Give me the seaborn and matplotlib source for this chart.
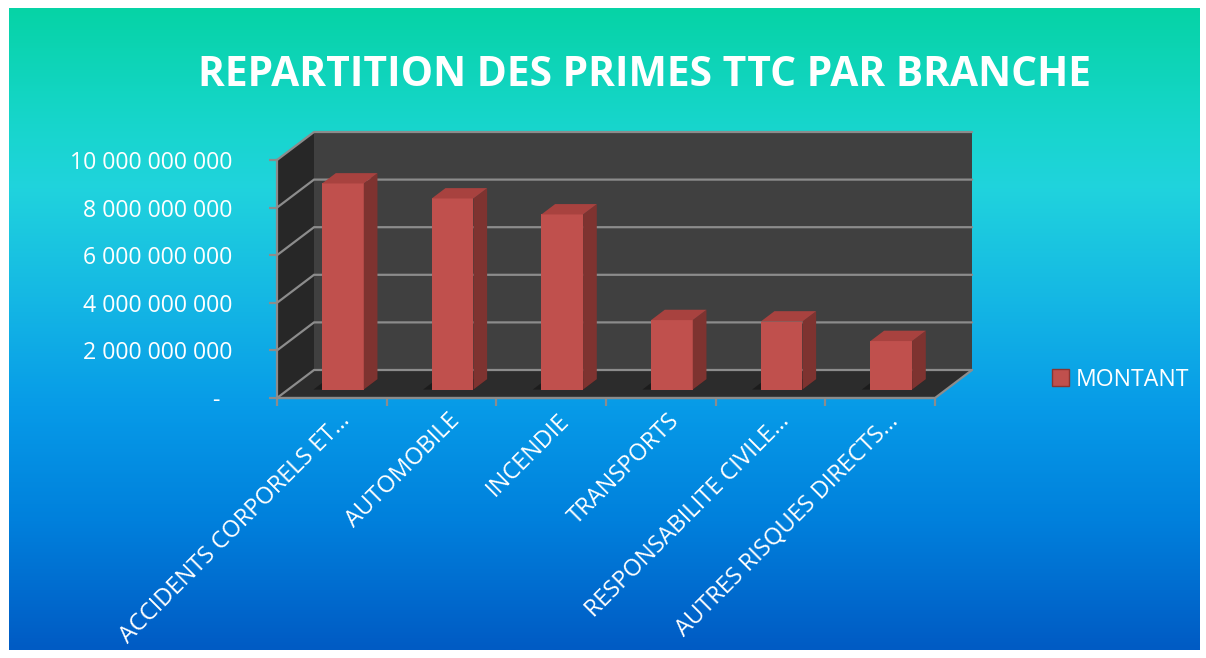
import numpy as np
import pandas as pd
import seaborn as sns
import matplotlib
matplotlib.use("Agg")
import matplotlib.pyplot as plt
from matplotlib.patches import Polygon, Patch
from matplotlib.colors import LinearSegmentedColormap
from matplotlib.transforms import ScaledTranslation

# donnees
branches = ["ACCIDENTS CORPORELS ET…", "AUTOMOBILE", "INCENDIE", "TRANSPORTS",
            "RESPONSABILITE CIVILE…", "AUTRES RISQUES DIRECTS…"]
montants = [8.66e9, 8.03e9, 7.36e9, 2.92e9, 2.86e9, 2.04e9]
yticks = [0, 2e9, 4e9, 6e9, 8e9, 1e10]
titre = "REPARTITION DES PRIMES TTC PAR BRANCHE"
serie = "MONTANT"

sns.set_style("white")
plt.rcParams["font.family"] = ["Open Sans", "DejaVu Sans"]

W, H = 1206, 658
fig = plt.figure(figsize=(W / 100, H / 100), dpi=100)
fig.patch.set_facecolor("white")

# fond en degrade
bg = fig.add_axes([9 / W, 8 / H, (1200 - 9) / W, (650 - 8) / H])
cmap = LinearSegmentedColormap.from_list("fond", [
    (0.0, "#06d3a6"), (0.18, "#17d6cc"), (0.28, "#20d3dd"), (0.45, "#15b8e4"),
    (0.62, "#079be8"), (0.80, "#0080dc"), (1.0, "#005bc4")])
bg.imshow(np.linspace(0, 1, 256).reshape(-1, 1), aspect="auto", cmap=cmap,
          extent=[0, 1, 0, 1])
bg.set_axis_off()

# axe principal (face avant du graphique 3D)
ax = fig.add_axes([277 / W, (H - 398) / H, (935 - 277) / W, 238 / H])
ax.patch.set_visible(False)

df = pd.DataFrame({"branche": branches, "montant": montants})
sns.barplot(data=df, x="branche", y="montant", color="#c0504d", saturation=1,
            width=0.38, ax=ax, zorder=3)

# decalage de profondeur (en unites de donnees)
SX = 37 / ((935 - 277) / 6)
SY = 28 / (238 / 1e10)
D0, BD = 0.30, 0.37
grid_c = "#8c8c8c"


def P(x, y, d):
    return (x + d * SX, y + d * SY)


ymax = yticks[-1]
floor = [P(-0.5, 0, 0), P(5.5, 0, 0), P(5.5, 0, 1), P(-0.5, 0, 1)]
back = [P(-0.5, 0, 1), P(5.5, 0, 1), P(5.5, ymax, 1), P(-0.5, ymax, 1)]
side = [P(-0.5, 0, 0), P(-0.5, 0, 1), P(-0.5, ymax, 1), P(-0.5, ymax, 0)]
for pts, fc in [(back, "#404040"), (side, "#272727"), (floor, "#2c2c2c")]:
    ax.add_patch(Polygon(pts, closed=True, facecolor=fc, edgecolor="none",
                         zorder=0.5, clip_on=False))

for v in yticks:
    a, b, c = P(-0.5, v, 0), P(-0.5, v, 1), P(5.5, v, 1)
    ax.plot([a[0], b[0], c[0]], [a[1], b[1], c[1]], color=grid_c, lw=1.6,
            zorder=0.8, clip_on=False, solid_joinstyle="miter")
a, b, c = P(-0.5, 0, 0), P(5.5, 0, 0), P(5.5, 0, 1)
ax.plot([a[0], b[0], c[0]], [a[1], b[1], c[1]], color=grid_c, lw=1.6,
        zorder=0.9, clip_on=False)

# barres : deplacer la face avant puis ajouter cote et dessus
for p in list(ax.patches):
    if not isinstance(p, matplotlib.patches.Rectangle):
        continue
    p.set_x(p.get_x() + D0 * SX)
    p.set_y(D0 * SY)
    p.set_edgecolor("none")
    p.set_clip_on(False)
    x0, x1 = p.get_x(), p.get_x() + p.get_width()
    y0, y1 = p.get_y(), p.get_y() + p.get_height()
    dx, dy = BD * SX, BD * SY
    # ombre sur le sol
    ax.add_patch(Polygon([(x0 - 0.08, y0), (x1, y0), (x1 + dx, y0 + dy),
                          (x0 + dx - 0.08, y0 + dy)], closed=True,
                         facecolor="#1c1c1c", edgecolor="none", zorder=1,
                         clip_on=False))
    ax.add_patch(Polygon([(x1, y0), (x1 + dx, y0 + dy), (x1 + dx, y1 + dy),
                          (x1, y1)], closed=True, facecolor="#7e3330",
                         edgecolor="none", zorder=3, clip_on=False))
    ax.add_patch(Polygon([(x0, y1), (x1, y1), (x1 + dx, y1 + dy),
                          (x0 + dx, y1 + dy)], closed=True, facecolor="#a8423f",
                         edgecolor="none", zorder=3, clip_on=False))

ax.set_xlim(-0.5, 5.5)
ax.set_ylim(0, ymax)
ax.set_xlabel("")
ax.set_ylabel("")
for s in ["top", "right"]:
    ax.spines[s].set_visible(False)
for s in ["left", "bottom"]:
    ax.spines[s].set_color(grid_c)
    ax.spines[s].set_linewidth(1.6)
    ax.spines[s].set_zorder(1)

ax.set_yticks(yticks)
ax.set_yticklabels([("-  " if v == 0 else f"{int(v):,}".replace(",", " "))
                    for v in yticks])
ax.tick_params(axis="y", length=6, width=1.6, color=grid_c, pad=26,
               labelcolor="white", labelsize=16.7, direction="out", left=True)

ax.set_xticks(range(len(branches)))
ax.set_xticklabels(branches, rotation=45, ha="right", va="center",
                   rotation_mode="anchor")
ax.set_xticks(np.arange(-0.5, len(branches)), minor=True)
ax.tick_params(axis="x", which="major", length=0, pad=14, labelcolor="white",
               labelsize=17)
ax.tick_params(axis="x", which="minor", length=6, width=1.6, color=grid_c,
               direction="out", bottom=True)
off = ScaledTranslation(15 / 100, 0, fig.dpi_scale_trans)
for lbl in ax.get_xticklabels():
    lbl.set_transform(lbl.get_transform() + off)

fig.text(645 / W, 1 - 76 / H, titre, ha="center", va="center", color="white",
         fontsize=29.3, fontweight="bold")

fig.legend([Patch(facecolor="#c0504d", edgecolor="#8a3532")], [serie],
           loc="center left", bbox_to_anchor=(1031 / W, 1 - 380 / H),
           frameon=False, labelcolor="white", fontsize=16.7,
           handlelength=0.75, handleheight=0.75, handletextpad=0.3)

fig.savefig("out.png", dpi=100, facecolor="white")
